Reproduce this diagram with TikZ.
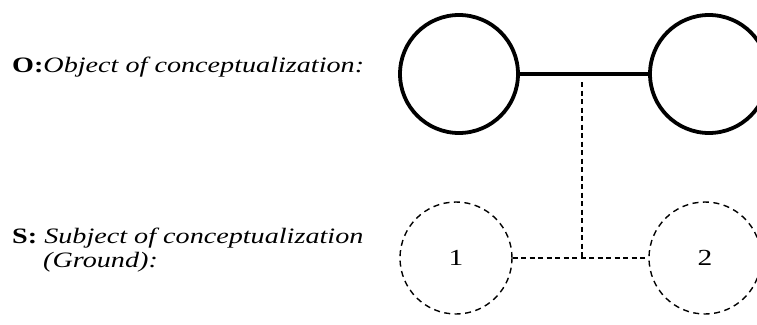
\documentclass[tikz,border=0pt]{standalone}
\usepackage{fontspec}
\setmainfont{Liberation Serif}[FakeStretch=1.28]
\begin{document}
\begin{tikzpicture}[x=1pt,y=-1pt,
  objcirc/.style={circle,draw,line width=3.8pt,minimum size=118pt,inner sep=0pt},
  subjcirc/.style={circle,draw,line width=1.4pt,dash pattern=on 6pt off 4.5pt,minimum size=112pt,inner sep=0pt,font=\fontsize{23}{26}\selectfont},
  dline/.style={line width=1.4pt,dash pattern=on 5pt off 3.5pt},
  lbl/.style={anchor=base west,inner sep=0pt,font=\fontsize{22}{25}\selectfont,align=left}]
\clip (0,0) rectangle (757,324);
\fill[white] (0,0) rectangle (757,324);
\node[objcirc] (o1) at (459,74) {};
\node[objcirc] (o2) at (709,74) {};
\draw[line width=3.8pt] (o1.east) -- (o2.west);
\node[subjcirc] (s1) at (456,258) {1};
\node[subjcirc] (s2) at (705,258) {2};
\coordinate (top) at (582,82);
\coordinate (j) at (582,260);
\draw[dline] (top) -- (j);
\draw[dline] (s1.east) -- (s2.west);
\node[lbl] (ot) at (12,72) {\textbf{O:}\textit{Object of conceptualization:}};
\node[lbl] (st) at (12,243) {\textbf{S:} \textit{Subject of conceptualization}};
\node[lbl] (st2) at (43,267) {\textit{(Ground):}};
\end{tikzpicture}
\end{document}
